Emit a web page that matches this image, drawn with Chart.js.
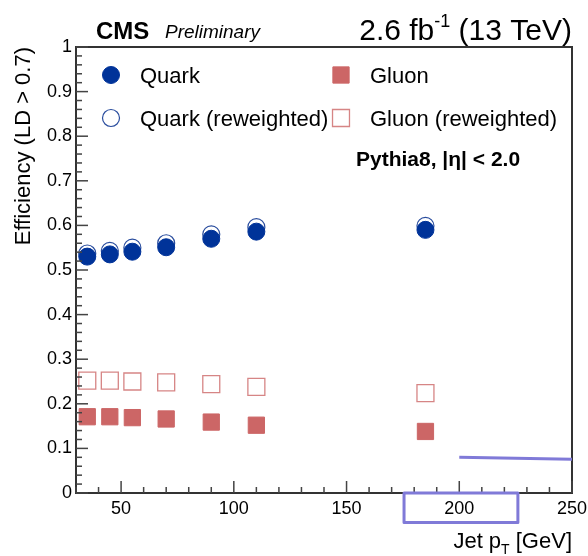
<!DOCTYPE html>
<html>
<head>
<meta charset="utf-8">
<title>Quark/gluon efficiency vs jet pT</title>
<script src="https://cdn.jsdelivr.net/npm/chart.js@4.4.1/dist/chart.umd.min.js"></script>
<style>
  html, body { margin: 0; padding: 0; background: #fff; }
  canvas { display: block; }
</style>
</head>
<body>
<canvas id="eff" width="588" height="556"></canvas>
<script>
// jet pT bin centres [GeV]
const ptBins = [35, 45, 55, 70, 90, 110, 185];

// efficiency for LD > 0.7
const quarkEff      = [0.530, 0.535, 0.541, 0.551, 0.570, 0.586, 0.590];
const quarkEffRewt  = [0.537, 0.543, 0.550, 0.560, 0.580, 0.596, 0.599];
const gluonEff      = [0.171, 0.171, 0.169, 0.166, 0.159, 0.152, 0.138];
const gluonEffRewt  = [0.252, 0.252, 0.250, 0.248, 0.244, 0.238, 0.224];

const xTicks = [50, 100, 150, 200, 250];
const yTicks = [0, 0.1, 0.2, 0.3, 0.4, 0.5, 0.6, 0.7, 0.8, 0.9, 1];

// hand-drawn highlight marks (data units)
const markLine = { x: [200, 250], y: [0.080, 0.0756] };
const markBox  = { x: [175.5, 226], y: [0, -0.066] };

const BLUE = '#003399';
const RED = '#cc6666';
const MARK = 'rgb(128,122,216)';
const FONT = '"Liberation Sans", Arial, Helvetica, sans-serif';

const toPoints = ys => ptBins.map((x, i) => ({ x: x, y: ys[i] }));

// ROOT-style frame with inward ticks
function drawFrame(chart) {
  const ctx = chart.ctx;
  const a = chart.chartArea;
  const sx = chart.scales.x, sy = chart.scales.y;
  const w = a.right - a.left, h = a.bottom - a.top;
  ctx.save();
  ctx.fillStyle = '#333333';
  ctx.fillRect(a.left - 1, a.top - 1, w + 2, 2);
  ctx.fillRect(a.left - 1, a.bottom - 1, w + 2, 2);
  ctx.fillRect(a.left - 1, a.top - 1, 2, h + 2);
  ctx.fillRect(a.right - 1, a.top - 1, 2, h + 2);
  ctx.fillStyle = '#444444';
  for (let v = 30; v <= 250; v += 10) {
    const px = sx.getPixelForValue(v);
    const len = v % 50 === 0 ? 12 : 6;
    ctx.fillRect(px - 0.75, a.bottom - len, 1.5, len);
  }
  for (let k = 0; k <= 50; k++) {
    const py = sy.getPixelForValue(k * 0.02);
    const len = k % 5 === 0 ? 12 : 6;
    ctx.fillRect(a.left, py - 0.75, len, 1.5);
  }
  ctx.restore();
}

function drawTexts(chart) {
  const ctx = chart.ctx;
  const a = chart.chartArea;
  const sx = chart.scales.x, sy = chart.scales.y;
  ctx.save();
  ctx.fillStyle = '#000';
  ctx.textBaseline = 'alphabetic';

  // header
  ctx.textAlign = 'left';
  ctx.font = 'bold 24px ' + FONT;
  ctx.fillText('CMS', 96, 39);
  ctx.font = 'italic 19px ' + FONT;
  ctx.fillText('Preliminary', 165, 38);

  ctx.textAlign = 'right';
  ctx.font = '30px ' + FONT;
  const tail = ' (13 TeV)';
  const wTail = ctx.measureText(tail).width;
  ctx.fillText(tail, a.right, 40);
  ctx.font = '18px ' + FONT;
  const wSup = ctx.measureText('-1').width;
  ctx.fillText('-1', a.right - wTail, 27);
  ctx.font = '30px ' + FONT;
  ctx.fillText('2.6 fb', a.right - wTail - wSup, 40);

  // legend, two columns
  const ds = chart.data.datasets;
  const rows = [75, 118];
  const items = [
    { d: ds[0], mx: 111, tx: 140, ty: rows[0] },
    { d: ds[2], mx: 111, tx: 140, ty: rows[1] },
    { d: ds[1], mx: 341, tx: 370, ty: rows[0] },
    { d: ds[3], mx: 341, tx: 370, ty: rows[1] }
  ];
  items.forEach(it => {
    const d = it.d;
    ctx.beginPath();
    if (d.pointStyle === 'circle') {
      ctx.arc(it.mx, it.ty, d.pointRadius, 0, Math.PI * 2);
    } else {
      const hs = d.pointRadius * Math.SQRT1_2;
      ctx.rect(it.mx - hs, it.ty - hs, 2 * hs, 2 * hs);
    }
    ctx.fillStyle = d.backgroundColor;
    ctx.fill();
    ctx.lineWidth = d.borderWidth;
    ctx.strokeStyle = d.borderColor;
    ctx.stroke();
    ctx.fillStyle = '#000';
    ctx.textAlign = 'left';
    ctx.font = '22px ' + FONT;
    ctx.fillText(d.label, it.tx, it.ty + 8);
  });

  ctx.font = 'bold 21px ' + FONT;
  ctx.textAlign = 'left';
  ctx.fillText('Pythia8, |\u03b7| < 2.0', 356, 166);

  // y title
  ctx.save();
  ctx.translate(30, a.top);
  ctx.rotate(-Math.PI / 2);
  ctx.textAlign = 'right';
  ctx.font = '22px ' + FONT;
  ctx.fillText('Efficiency (LD > 0.7)', 0, 0);
  ctx.restore();

  // x title with subscript
  ctx.textAlign = 'left';
  ctx.font = '22px ' + FONT;
  const s1 = 'Jet p', s3 = ' [GeV]';
  const w1 = ctx.measureText(s1).width, w3 = ctx.measureText(s3).width;
  ctx.font = '14px ' + FONT;
  const w2 = ctx.measureText('T').width;
  const x0 = a.right - w1 - w2 - w3;
  ctx.font = '22px ' + FONT;
  ctx.fillText(s1, x0, 548);
  ctx.fillText(s3, x0 + w1 + w2, 548);
  ctx.font = '14px ' + FONT;
  ctx.fillText('T', x0 + w1, 554);

  // highlight marks
  ctx.strokeStyle = MARK;
  ctx.lineWidth = 3;
  ctx.beginPath();
  ctx.moveTo(sx.getPixelForValue(markLine.x[0]), sy.getPixelForValue(markLine.y[0]));
  ctx.lineTo(sx.getPixelForValue(markLine.x[1]), sy.getPixelForValue(markLine.y[1]));
  ctx.stroke();
  const bx0 = sx.getPixelForValue(markBox.x[0]), bx1 = sx.getPixelForValue(markBox.x[1]);
  const by0 = sy.getPixelForValue(markBox.y[0]), by1 = sy.getPixelForValue(markBox.y[1]);
  ctx.lineJoin = 'round';
  ctx.strokeRect(bx0, by0, bx1 - bx0, by1 - by0);
  ctx.restore();
}

const decorPlugin = {
  id: 'rootDecor',
  afterDraw(chart) {
    drawFrame(chart);
    drawTexts(chart);
  }
};

new Chart(document.getElementById('eff'), {
  type: 'scatter',
  data: {
    datasets: [
      {
        label: 'Quark',
        data: toPoints(quarkEff),
        pointStyle: 'circle',
        pointRadius: 8.5,
        borderWidth: 1,
        backgroundColor: BLUE,
        borderColor: BLUE
      },
      {
        label: 'Gluon',
        data: toPoints(gluonEff),
        pointStyle: 'rect',
        pointRadius: 11.5,
        borderWidth: 1,
        backgroundColor: RED,
        borderColor: RED
      },
      {
        label: 'Quark (reweighted)',
        data: toPoints(quarkEffRewt),
        pointStyle: 'circle',
        pointRadius: 8.5,
        borderWidth: 1.2,
        backgroundColor: '#ffffff',
        borderColor: '#2a4d9e'
      },
      {
        label: 'Gluon (reweighted)',
        data: toPoints(gluonEffRewt),
        pointStyle: 'rect',
        pointRadius: 12,
        borderWidth: 1.3,
        backgroundColor: '#ffffff',
        borderColor: 'rgba(204,102,102,0.8)'
      }
    ]
  },
  options: {
    responsive: false,
    devicePixelRatio: 1,
    animation: false,
    events: [],
    layout: { padding: { top: 47, right: 16, left: 0, bottom: 0 } },
    plugins: {
      legend: { display: false },
      tooltip: { enabled: false }
    },
    scales: {
      x: {
        type: 'linear',
        min: 30,
        max: 250,
        afterBuildTicks: s => { s.ticks = xTicks.map(v => ({ value: v })); },
        afterFit: s => { s.height = 63; s.paddingLeft = 0; s.paddingRight = 0; },
        grid: { display: false, drawTicks: false },
        border: { display: false },
        ticks: {
          padding: 5,
          color: '#000',
          maxRotation: 0,
          font: { family: FONT, size: 18 },
          callback: v => String(v)
        }
      },
      y: {
        type: 'linear',
        min: 0,
        max: 1,
        afterBuildTicks: s => { s.ticks = yTicks.map(v => ({ value: v })); },
        afterFit: s => { s.width = 76; s.paddingTop = 0; s.paddingBottom = 0; },
        grid: { display: false, drawTicks: false },
        border: { display: false },
        ticks: {
          padding: 4,
          color: '#000',
          font: { family: FONT, size: 18 },
          callback: v => (v === 0 || v === 1) ? String(v) : v.toFixed(1)
        }
      }
    }
  },
  plugins: [decorPlugin]
});
</script>
</body>
</html>
